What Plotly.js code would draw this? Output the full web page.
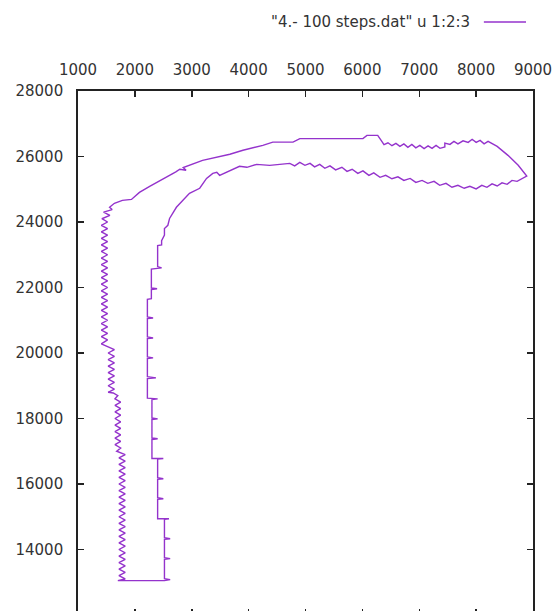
<!DOCTYPE html>
<html>
<head>
<meta charset="utf-8">
<script src="https://cdn.plot.ly/plotly-3.0.1.min.js"></script>
<style>
html,body{margin:0;padding:0;background:#fff;overflow:hidden;}
#plot{width:558px;height:615px;}
</style>
</head>
<body>
<div id="plot"></div>
<script>
// Legend label
const seriesName = '"4.- 100 steps.dat" u 1:2:3';

// Axis ticks
const xTicks = [1000, 2000, 3000, 4000, 5000, 6000, 7000, 8000, 9000];
const yTicks = [12000, 14000, 16000, 18000, 20000, 22000, 24000, 26000, 28000];

// Bottom edge of the path
const bottomX = [1700, 2520];
const bottomY = [13050, 13050];

// Inner (right) edge, bottom to top, then along the top to the tip
const innerX = [2520, 2620, 2520, 2520, 2620, 2520, 2520, 2620, 2520, 2520, 2600, 2400,
  2400, 2500, 2400, 2400, 2500, 2400, 2400, 2500, 2300,
  2300, 2400, 2300, 2300, 2400, 2300, 2300, 2400, 2220,
  2220, 2370, 2220, 2220, 2320, 2220, 2220, 2320, 2220, 2220, 2320, 2220,
  2220, 2290, 2290, 2390, 2290, 2290, 2470, 2400, 2400, 2470, 2470,
  2520, 2520, 2580, 2610, 2730, 2840, 2960, 3140, 3260, 3370, 3440, 3490, 3670, 3840, 3970, 4140, 4370,
  4724, 4810, 4900, 4990, 5080, 5160, 5250, 5340, 5430, 5530, 5640, 5730, 5820, 5920, 6010, 6115,
  6200, 6310, 6410, 6520, 6625, 6730, 6840, 6940, 7050, 7150, 7260, 7360, 7470, 7575, 7680, 7790,
  7890, 8000, 8100, 8190, 8280, 8370, 8455, 8545, 8630, 8720, 8810, 8890];
const innerY = [13050, 13080, 13110, 13700, 13720, 13750, 14310, 14330, 14360, 14920, 14940, 14940,
  15530, 15550, 15580, 16140, 16160, 16190, 16760, 16780, 16780,
  17360, 17380, 17410, 17970, 17990, 18020, 18580, 18600, 18620,
  19220, 19240, 19280, 19830, 19850, 19880, 20440, 20460, 20490, 21050, 21070, 21100,
  21640, 21660, 21940, 21960, 21990, 22560, 22600, 22640, 23280, 23300, 23430,
  23600, 23800, 23900, 24110, 24450, 24660, 24875, 25030, 25330, 25485, 25515, 25425, 25575, 25700, 25670, 25760, 25730,
  25790, 25715, 25820, 25730, 25790, 25685, 25760, 25640, 25715, 25590, 25670, 25545, 25610, 25485, 25560, 25425,
  25500, 25365, 25425, 25320, 25380, 25270, 25330, 25210, 25270, 25180, 25240, 25120, 25180, 25060, 25120, 25030,
  25090, 25010, 25120, 25060, 25165, 25100, 25195, 25150, 25270, 25240, 25330, 25400];

// Outer (upper/left) edge, from the tip back to the left
const outerX = [8740, 8560, 8370, 8280, 8210, 8140, 8070, 8000, 7930, 7860, 7770, 7680, 7610, 7540, 7450, 7450,
  7365, 7295, 7225, 7155, 7085, 7010, 6940, 6870, 6800, 6730, 6660, 6590, 6520, 6450, 6380, 6330,
  6270, 6080, 6010, 4900, 4780, 4425, 4250, 3900, 3670, 3190, 2960, 2850, 2900, 2790, 2720, 2435, 2260, 2080, 1940, 1780, 1640, 1555];
const outerY = [25730, 26035, 26310, 26395, 26460, 26385, 26490, 26430, 26525, 26430, 26480, 26385, 26460, 26370, 26410, 26290,
  26250, 26340, 26250, 26325, 26240, 26340, 26265, 26370, 26280, 26385, 26310, 26400, 26330, 26420, 26360, 26490,
  26645, 26645, 26545, 26545, 26440, 26440, 26340, 26190, 26070, 25880, 25730, 25660, 25580, 25610, 25530, 25270, 25090, 24905, 24690, 24660, 24570, 24450];

// Left zig-zag edge, top to bottom
const leftX = [1600, 1450, 1560, 1420, 1520, 1410, 1520, 1410, 1520, 1410, 1520, 1410, 1520, 1410, 1520, 1410,
  1520, 1410, 1520, 1410, 1520, 1410, 1520, 1410, 1520, 1410, 1520, 1410, 1520, 1410, 1520, 1410,
  1520, 1410, 1520, 1410, 1520, 1410, 1520, 1410, 1520, 1410,
  1560, 1640, 1530, 1640, 1530, 1640, 1530, 1640, 1530, 1640, 1530, 1640, 1530, 1640, 1530, 1620, 1700,
  1650, 1750, 1650, 1750, 1650, 1750, 1650, 1750, 1650, 1750, 1650, 1750, 1650, 1750, 1650, 1750, 1680,
  1830, 1720, 1830, 1720, 1830, 1720, 1830, 1720, 1830, 1720, 1830, 1720, 1830, 1720, 1830, 1720,
  1830, 1720, 1830, 1720, 1830, 1720, 1830, 1720, 1830, 1720, 1830, 1720, 1830, 1720, 1830, 1720,
  1830, 1720, 1830, 1720, 1830, 1720, 1830, 1700];
const leftY = [24380, 24300, 24200, 24100, 24000, 23900, 23800, 23700, 23600, 23500, 23400, 23300, 23200, 23100, 23000, 22900,
  22800, 22700, 22600, 22500, 22400, 22300, 22200, 22100, 22000, 21900, 21800, 21700, 21600, 21500, 21400, 21300,
  21200, 21100, 21000, 20900, 20800, 20700, 20600, 20500, 20400, 20280,
  20160, 20100, 20000, 19900, 19800, 19700, 19600, 19500, 19400, 19300, 19200, 19100, 19000, 18900, 18800, 18780, 18700,
  18600, 18500, 18400, 18300, 18200, 18100, 18000, 17900, 17800, 17700, 17600, 17500, 17400, 17300, 17200, 17100, 17000,
  16900, 16800, 16700, 16600, 16500, 16400, 16300, 16200, 16100, 16000, 15900, 15800, 15700, 15600, 15500, 15400,
  15300, 15200, 15100, 15000, 14900, 14800, 14700, 14600, 14500, 14400, 14300, 14200, 14100, 14000, 13900, 13800,
  13700, 13600, 13500, 13400, 13300, 13200, 13100, 13050];

const xs = [].concat(bottomX, innerX, outerX, leftX);
const ys = [].concat(bottomY, innerY, outerY, leftY);

const lineColor = '#9433cc';
const textColor = '#333333';
const fontFam = '"DejaVu Sans", Verdana, sans-serif';

const trace = {
  x: xs, y: ys, type: 'scatter', mode: 'lines', name: seriesName,
  line: {color: lineColor, width: 1.4}, showlegend: false
};

const layout = {
  width: 558, height: 615,
  margin: {l: 78, r: 25, t: 91, b: 0, pad: 0},
  paper_bgcolor: '#fff', plot_bgcolor: '#fff',
  font: {family: fontFam, size: 15, color: textColor},
  xaxis: {
    side: 'top', range: [1000, 9000], tickvals: xTicks, ticktext: xTicks.map(String),
    ticks: 'inside', ticklen: 6, tickwidth: 1.5, tickcolor: '#222',
    showline: true, linecolor: '#222', linewidth: 1.8, mirror: 'ticks',
    showgrid: false, zeroline: false, ticklabelstandoff: 8,
    tickfont: {family: fontFam, size: 15, color: textColor}
  },
  yaxis: {
    range: [12000, 28000], tickvals: yTicks, ticktext: yTicks.map(String),
    ticks: 'inside', ticklen: 6, tickwidth: 1.5, tickcolor: '#222',
    showline: true, linecolor: '#222', linewidth: 1.8, mirror: 'ticks',
    showgrid: false, zeroline: false, ticklabelstandoff: 10,
    tickfont: {family: fontFam, size: 15, color: textColor}
  },
  annotations: [{
    xref: 'paper', yref: 'paper', x: 0.866, y: 1.1317, xanchor: 'right', yanchor: 'middle',
    text: seriesName, showarrow: false, font: {family: fontFam, size: 15, color: textColor}
  }],
  shapes: [{
    type: 'line', xref: 'paper', yref: 'paper', x0: 0.892, x1: 0.9846, y0: 1.1317, y1: 1.1317,
    line: {color: lineColor, width: 1.4}
  }]
};

Plotly.newPlot('plot', [trace], layout, {displayModeBar: false, staticPlot: true});
</script>
</body>
</html>
